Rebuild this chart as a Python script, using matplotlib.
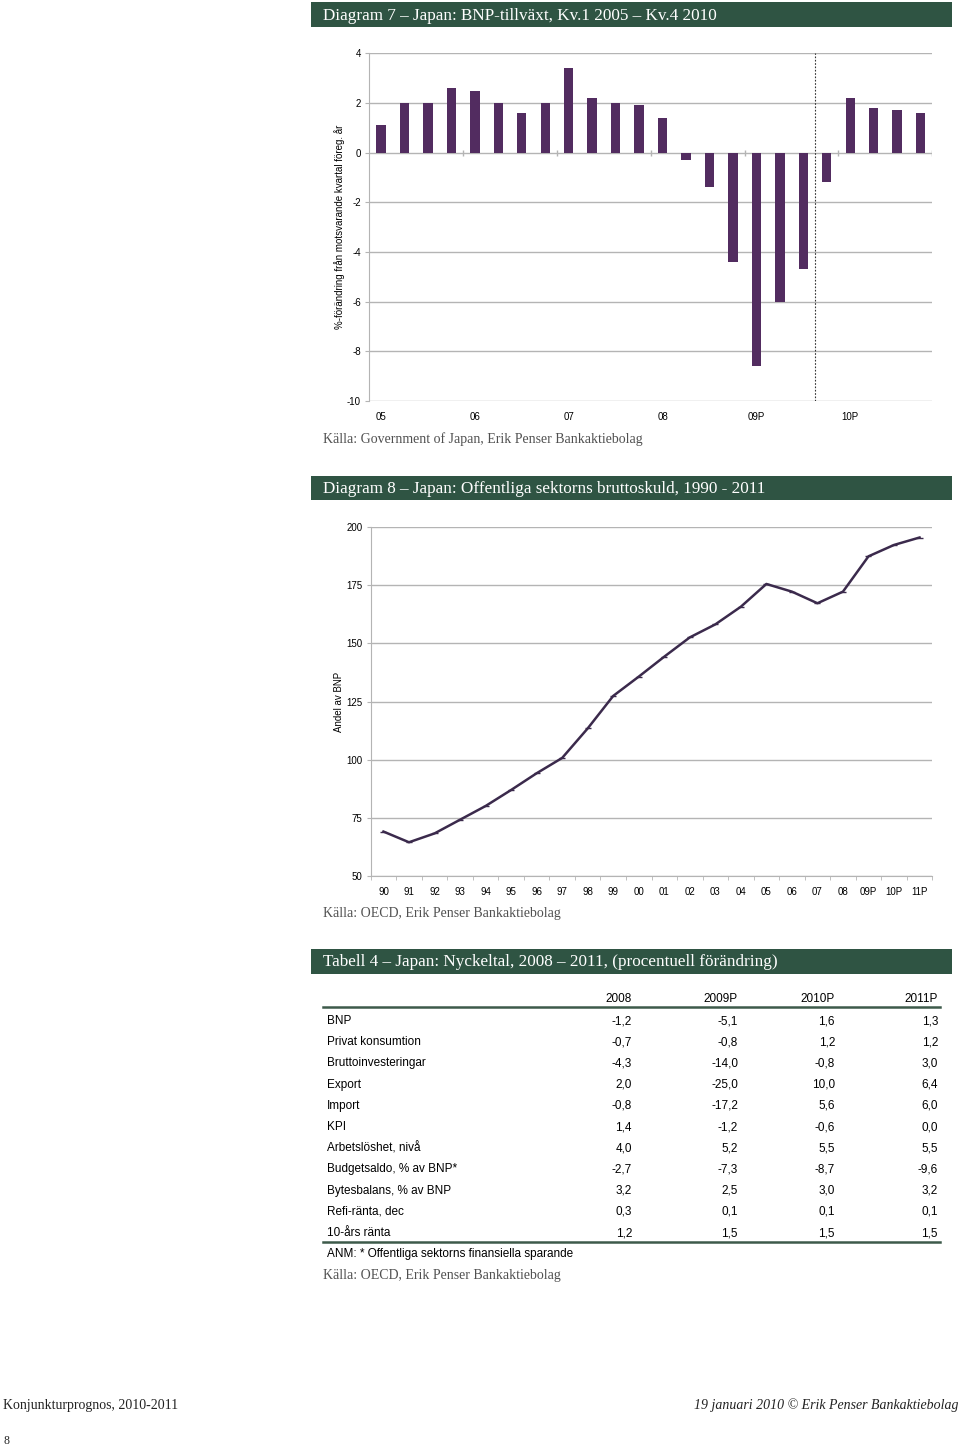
import matplotlib
matplotlib.use("Agg")
import matplotlib.pyplot as plt
from matplotlib.patches import Rectangle

# --- data ---
gdp_quarters = ["05", "", "", "", "06", "", "", "", "07", "", "", "",
                "08", "", "", "", "09P", "", "", "", "10P", "", "", ""]
gdp_growth = [1.1, 2.0, 2.0, 2.6, 2.5, 2.0, 1.6, 2.0, 3.4, 2.2, 2.0, 1.9,
              1.4, -0.3, -1.4, -4.4, -8.6, -6.0, -4.7, -1.2, 2.2, 1.8, 1.7, 1.6]

debt_years = ["90", "91", "92", "93", "94", "95", "96", "97", "98", "99", "00",
              "01", "02", "03", "04", "05", "06", "07", "08", "09P", "10P", "11P"]
debt_share = [69.0, 64.4, 68.2, 74.1, 80.0, 86.9, 94.1, 100.7, 113.4, 127.4, 135.7,
              144.3, 152.6, 158.2, 165.8, 175.6, 172.3, 167.3, 172.3, 187.5, 192.4, 195.6]

table_cols = ["2008", "2009P", "2010P", "2011P"]
table_rows = ["BNP", "Privat konsumtion", "Bruttoinvesteringar", "Export", "Import",
              "KPI", "Arbetslöshet, nivå", "Budgetsaldo, % av BNP*",
              "Bytesbalans, % av BNP", "Refi-ränta, dec", "10-års ränta"]
table_vals = [["-1,2", "-5,1", "1,6", "1,3"],
              ["-0,7", "-0,8", "1,2", "1,2"],
              ["-4,3", "-14,0", "-0,8", "3,0"],
              ["2,0", "-25,0", "10,0", "6,4"],
              ["-0,8", "-17,2", "5,6", "6,0"],
              ["1,4", "-1,2", "-0,6", "0,0"],
              ["4,0", "5,2", "5,5", "5,5"],
              ["-2,7", "-7,3", "-8,7", "-9,6"],
              ["3,2", "2,5", "3,0", "3,2"],
              ["0,3", "0,1", "0,1", "0,1"],
              ["1,2", "1,5", "1,5", "1,5"]]

W, H = 960, 1448
GREEN = '#2f5443'
BAR = '#522c60'
LINE = '#3b2a4c'
GRID = '#b4b4b4'
SERIF = 'Liberation Serif'
SANS = 'Liberation Sans'

plt.rcParams['axes.unicode_minus'] = False

fig = plt.figure(figsize=(W / 100, H / 100), dpi=100)
fig.patch.set_facecolor('white')


def px_axes(left, top, right, bottom):
    return fig.add_axes([left / W, 1 - bottom / H, (right - left) / W, (bottom - top) / H])


def fx(x):
    return x / W


def fy(y):
    return 1 - y / H


def header(y0, y1, text):
    fig.patches.append(Rectangle((fx(311), fy(y1)), fx(952 - 311), (y1 - y0) / H,
                                 transform=fig.transFigure, facecolor=GREEN,
                                 edgecolor='none'))
    fig.text(fx(323), fy((y0 + y1) / 2 + 1), text, color='white', family=SERIF,
             fontsize=12.3, ha='left', va='center')


def source(y, text):
    fig.text(fx(323), fy(y), text, color='#505050', family=SERIF, fontsize=10,
             ha='left', va='center')


def style_axes(ax):
    for side in ['top', 'right', 'bottom']:
        ax.spines[side].set_visible(False)
    ax.spines['left'].set_color(GRID)
    ax.yaxis.grid(True, color=GRID, linewidth=1)
    ax.set_axisbelow(True)
    ax.tick_params(axis='y', length=3, color=GRID, labelsize=7, pad=3)
    for lab in ax.get_yticklabels() + ax.get_xticklabels():
        lab.set_family(SANS)


# --- Diagram 7 ---
header(2, 27, "Diagram 7 – Japan: BNP-tillväxt, Kv.1 2005 – Kv.4 2010")
ax1 = px_axes(369.3, 53.3, 932.3, 401)
x1 = range(len(gdp_growth))
ax1.bar(x1, gdp_growth, width=0.4, color=BAR, zorder=3)
ax1.set_xlim(-0.5, len(gdp_growth) - 0.5)
ax1.set_ylim(-10, 4)
ax1.set_yticks(range(-10, 5, 2))
ax1.set_xticks(list(x1))
ax1.set_xticklabels(gdp_quarters)
ax1.tick_params(axis='x', length=0, labelsize=7, pad=8)
style_axes(ax1)
ax1.vlines([i + 3.5 for i in range(0, len(gdp_growth), 4)], -0.12, 0.12,
           color=GRID, linewidth=1, zorder=2)
ax1.axvline(18.5, color='#333333', linestyle=(0, (1.5, 1.5)), linewidth=0.8, zorder=4)
ax1.set_ylabel("%-förändring från motsvarande kvartal föreg. år", family=SANS,
               fontsize=7, labelpad=0)
ax1.yaxis.set_label_coords((345 - 369.3) / (932.3 - 369.3), 0.5)
source(439, "Källa: Government of Japan, Erik Penser Bankaktiebolag")

# --- Diagram 8 ---
header(476, 500, "Diagram 8 – Japan: Offentliga sektorns bruttoskuld, 1990 - 2011")
ax2 = px_axes(370.7, 527.3, 932.3, 875.7)
x2 = range(len(debt_share))
ax2.plot(x2, debt_share, color=LINE, linewidth=1.8, marker='_', markersize=4,
         zorder=3)
ax2.set_xlim(-0.5, len(debt_share) - 0.5)
ax2.set_ylim(50, 200)
ax2.set_yticks(range(50, 201, 25))
ax2.set_xticks(list(x2))
ax2.set_xticklabels(debt_years)
ax2.set_xticks([i + 0.5 for i in range(-1, len(debt_share))], minor=True)
ax2.tick_params(axis='x', which='major', length=0, labelsize=7, pad=8)
ax2.tick_params(axis='x', which='minor', length=3, color=GRID)
style_axes(ax2)
ax2.spines['bottom'].set_visible(True)
ax2.spines['bottom'].set_color(GRID)
ax2.set_ylabel("Andel av BNP", family=SANS, fontsize=7, labelpad=0)
ax2.yaxis.set_label_coords((344 - 370.7) / (932.3 - 370.7), 0.5)
source(913, "Källa: OECD, Erik Penser Bankaktiebolag")

# --- Tabell 4 ---
header(949, 974, "Tabell 4 – Japan: Nyckeltal, 2008 – 2011, (procentuell förändring)")
col_x = [632, 738, 835, 938]
row0, row_step = 1021, 21.2
for cx, name in zip(col_x, table_cols):
    fig.text(fx(cx), fy(999.5), name, family=SANS, fontsize=8.5, ha='right', va='center')
fig.add_artist(plt.Line2D([fx(323), fx(940)], [fy(1006.5), fy(1006.5)],
                          color='#3d5a4a', linewidth=1.8))
for i, (name, vals) in enumerate(zip(table_rows, table_vals)):
    y = row0 + i * row_step
    fig.text(fx(327), fy(y), name, family=SANS, fontsize=8.5, ha='left', va='center')
    for cx, v in zip(col_x, vals):
        fig.text(fx(cx), fy(y), v, family=SANS, fontsize=8.5, ha='right', va='center')
fig.add_artist(plt.Line2D([fx(323), fx(940)], [fy(1242), fy(1242)],
                          color='#3d5a4a', linewidth=1.8))
fig.text(fx(327), fy(1254.5), "ANM: * Offentliga sektorns finansiella sparande",
         family=SANS, fontsize=8.5, ha='left', va='center')
source(1276, "Källa: OECD, Erik Penser Bankaktiebolag")

# --- footer ---
fig.text(fx(3), fy(1405), "Konjunkturprognos, 2010-2011", family=SERIF, fontsize=10,
         ha='left', va='center', color='#222222')
fig.text(fx(958), fy(1405), "19 januari 2010 © Erik Penser Bankaktiebolag", family=SERIF,
         style='italic', fontsize=10, ha='right', va='center', color='#222222')
fig.text(fx(3), fy(1441), "8", family=SERIF, fontsize=8.5, ha='left', va='center',
         color='#222222')

fig.savefig("out.png", dpi=100, facecolor='white')
